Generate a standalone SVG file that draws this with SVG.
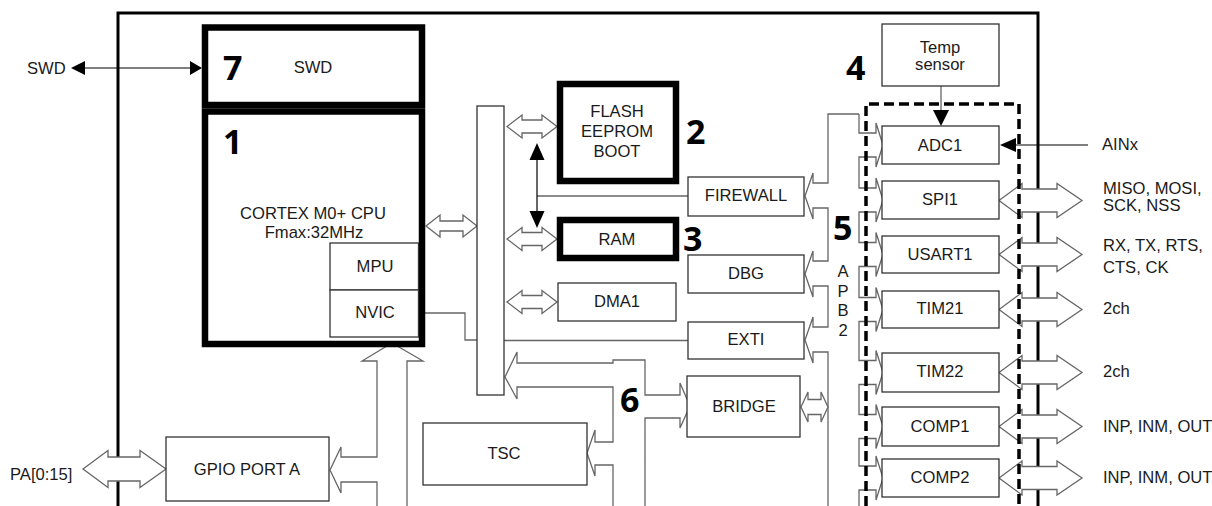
<svg xmlns="http://www.w3.org/2000/svg" width="1212" height="506" viewBox="0 0 1212 506">
<style>
.box{fill:#fff;stroke:#333;stroke-width:1.3}
.thick{fill:#fff;stroke:#000;stroke-width:6.5}
.t{font-family:"Liberation Sans",Arial,sans-serif;font-size:16.6px;fill:#1a1a1a;text-anchor:middle}
.tl{font-family:"Liberation Sans",Arial,sans-serif;font-size:16.6px;fill:#1a1a1a}
.num{font-family:"Open Sans","Liberation Sans",sans-serif;font-weight:700;font-size:34px;fill:#000}
.bus{fill:none;stroke:#666;stroke-width:1.3}
.dbl{fill:#fff;stroke:#666;stroke-width:1.3}
.blk{fill:none;stroke:#000;stroke-width:1.2}
.hd{fill:#000;stroke:none}
</style>
<rect width="1212" height="506" fill="#fff"/>
<path id="chip" d="M118,506 L118,13 L1038,13 L1038,506" fill="none" stroke="#000" stroke-width="3"/>
<g id="connectors">
  <line class="blk" x1="84" y1="68" x2="191" y2="68"/>
  <polygon class="hd" points="71,68 85,61 85,75"/>
  <polygon class="hd" points="202,68 190,61 190,75"/>
  <polygon class="dbl" points="426,226 440,215 440,221 463,221 463,215 477,226 463,237 463,231 440,231 440,237"/>
  <polygon class="dbl" points="507,126.5 522,115 522,120 542,120 542,115 557,126.5 542,138 542,133 522,133 522,138"/>
  <polygon class="dbl" points="507,239 522,227.5 522,232.5 542,232.5 542,227.5 557,239 542,250.5 542,245.5 522,245.5 522,250.5"/>
  <polygon class="dbl" points="507,302 522,290.5 522,295.5 542,295.5 542,290.5 557,302 542,313.5 542,308.5 522,308.5 522,313.5"/>
  <line class="bus" x1="537" y1="196" x2="688" y2="196"/>
  <line class="blk" x1="537" y1="158" x2="537" y2="213"/>
  <polygon class="hd" points="537,143 529.5,160 544.5,160"/>
  <polygon class="hd" points="537,228 529.5,211 544.5,211"/>
  <polyline class="bus" points="425,313 465,313 465,340 477,340"/>
  <line class="bus" x1="504" y1="340.5" x2="688" y2="340.5"/>
  <path class="dbl" d="M645,506 L645,418 L680,418 L680,428 L690,406 L680,383 L680,395 L645,395 L645,360 L613,360 L613,363 L517,363 L517,352 L505,377 L517,399 L517,387 L613,387 L613,442 L595,442 L595,430 L587,453 L595,476 L595,465 L613,465 L613,506"/>
  <path class="dbl" d="M377,506 L377,482 L341,482 L341,493 L330,470 L341,447 L341,457 L377,457 L377,361 L362,361 L392,343 L423,361 L407,361 L407,506"/>
  <polygon class="dbl" points="83,469 108,450.5 108,457 140,457 140,450.5 166,469 140,487.5 140,481 108,481 108,487.5"/>
  <path class="dbl" d="M859,114 L828,114 L828,183 L813,183 L813,173 L805,196 L813,219 L813,208 L828,208 L828,261 L813,261 L813,251 L805,274 L813,297 L813,286 L828,286 L828,327 L813,327 L813,317 L805,340 L813,363 L813,352 L828,352 L828,506"/>
  <path class="bus" d="M859,114 L859,133 L876,133 L876,123 L883,145 L876,167 L876,157 L859,157 L859,188 L876,188 L876,178 L883,200 L876,222 L876,212 L859,212 L859,242.5 L876,242.5 L876,232.5 L883,254.5 L876,276.5 L876,266.5 L859,266.5 L859,297.5 L876,297.5 L876,287.5 L883,309.5 L876,331.5 L876,321.5 L859,321.5 L859,360.5 L876,360.5 L876,350.5 L883,372.5 L876,394.5 L876,384.5 L859,384.5 L859,414.5 L876,414.5 L876,404.5 L883,426.5 L876,448.5 L876,438.5 L859,438.5 L859,466 L876,466 L876,456 L883,478 L876,500 L876,490 L859,490 L859,506"/>
  <polygon class="dbl" points="801,407 808,392 808,399.5 821,399.5 821,392 828,407 821,422 821,414.5 808,414.5 808,422"/>
  <line class="bus" x1="941" y1="86" x2="941" y2="111"/>
  <polygon class="hd" points="941,126 933,110 949,110"/>
  <line class="blk" x1="1015" y1="145" x2="1088" y2="145"/>
  <polygon class="hd" points="1000,145 1016,138 1016,152"/>
  <polygon class="dbl" points="999,200.5 1022,183.5 1022,189 1057,189 1057,183.5 1082,200.5 1057,217.5 1057,212 1022,212 1022,217.5"/>
  <polygon class="dbl" points="999,254.5 1022,237.5 1022,243 1057,243 1057,237.5 1082,254.5 1057,271.5 1057,266 1022,266 1022,271.5"/>
  <polygon class="dbl" points="999,309.5 1022,292.5 1022,298 1057,298 1057,292.5 1082,309.5 1057,326.5 1057,321 1022,321 1022,326.5"/>
  <polygon class="dbl" points="999,372.5 1022,355.5 1022,361 1057,361 1057,355.5 1082,372.5 1057,389.5 1057,384 1022,384 1022,389.5"/>
  <polygon class="dbl" points="999,426.5 1022,409.5 1022,415 1057,415 1057,409.5 1082,426.5 1057,443.5 1057,438 1022,438 1022,443.5"/>
  <polygon class="dbl" points="999,478 1022,461 1022,466.5 1057,466.5 1057,461 1082,478 1057,495 1057,489.5 1022,489.5 1022,495"/>
</g>
<g id="swd"><rect class="thick" x="205" y="27.5" width="217" height="77.5"/><text class="t" x="313" y="73">SWD</text></g>
<g id="cpu"><rect class="thick" x="205" y="111.5" width="217" height="232.5"/><text class="t" x="313" y="219">CORTEX M0+ CPU</text><text class="t" x="314" y="238">Fmax:32MHz</text></g>
<g id="mpu"><rect class="box" x="330" y="243" width="88.5" height="47"/><text class="t" x="375" y="272">MPU</text></g>
<g id="nvic"><rect class="box" x="330" y="290" width="88.5" height="47"/><text class="t" x="375" y="318">NVIC</text></g>
<g id="bus"><rect class="box" x="477" y="106" width="27" height="289"/></g>
<g id="flash"><rect class="thick" x="560" y="84" width="116" height="97"/><text class="t" x="617" y="117">FLASH</text><text class="t" x="617" y="137">EEPROM</text><text class="t" x="617" y="157">BOOT</text></g>
<g id="ram"><rect class="thick" x="560" y="220" width="116" height="38"/><text class="t" x="617" y="245">RAM</text></g>
<g id="dma1"><rect class="box" x="558" y="283" width="118" height="38"/><text class="t" x="617" y="307">DMA1</text></g>
<g id="firewall"><rect class="box" x="688" y="177" width="116" height="39"/><text class="t" x="746" y="201">FIREWALL</text></g>
<g id="dbg"><rect class="box" x="688" y="255" width="116" height="38"/><text class="t" x="746" y="279">DBG</text></g>
<g id="exti"><rect class="box" x="688" y="322" width="116" height="37"/><text class="t" x="746" y="345">EXTI</text></g>
<g id="bridge"><rect class="box" x="687" y="376" width="113" height="61"/><text class="t" x="744" y="412">BRIDGE</text></g>
<g id="tsc"><rect class="box" x="423" y="423" width="164" height="62"/><text class="t" x="504" y="459">TSC</text></g>
<g id="gpioa"><rect class="box" x="166" y="437" width="163" height="64"/><text class="t" x="247" y="475">GPIO PORT A</text></g>
<g id="temp"><rect class="box" x="882" y="24" width="117" height="62"/><text class="t" x="940" y="53">Temp</text><text class="t" x="940" y="70">sensor</text></g>
<g id="adc1"><rect class="box" x="882" y="126" width="117" height="38"/><text class="t" x="940" y="151">ADC1</text></g>
<g id="spi1"><rect class="box" x="882" y="181" width="117" height="38"/><text class="t" x="940" y="205">SPI1</text></g>
<g id="usart1"><rect class="box" x="882" y="236" width="117" height="37"/><text class="t" x="940" y="260">USART1</text></g>
<g id="tim21"><rect class="box" x="882" y="291" width="117" height="37"/><text class="t" x="940" y="314">TIM21</text></g>
<g id="tim22"><rect class="box" x="882" y="353" width="117" height="39"/><text class="t" x="940" y="377">TIM22</text></g>
<g id="comp1"><rect class="box" x="882" y="407" width="117" height="39"/><text class="t" x="940" y="432">COMP1</text></g>
<g id="comp2"><rect class="box" x="882" y="459" width="117" height="38"/><text class="t" x="940" y="483">COMP2</text></g>
<path id="apb-group" d="M866,506 L866,104 L1019,104 L1019,506" fill="none" stroke="#000" stroke-width="3.5" stroke-dasharray="10 5"/>
<g id="apb2-label">
  <text class="t" x="843" y="277">A</text><text class="t" x="843" y="297">P</text><text class="t" x="843" y="316">B</text><text class="t" x="843" y="336">2</text>
</g>
<g id="labels">
  <text class="tl" x="27" y="74">SWD</text>
  <text class="tl" x="10" y="480">PA[0:15]</text>
  <text class="tl" x="1102" y="150">AINx</text>
  <text class="tl" x="1103" y="194">MISO, MOSI,</text>
  <text class="tl" x="1103" y="211">SCK, NSS</text>
  <text class="tl" x="1103" y="251">RX, TX, RTS,</text>
  <text class="tl" x="1103" y="273">CTS, CK</text>
  <text class="tl" x="1103" y="314">2ch</text>
  <text class="tl" x="1103" y="377">2ch</text>
  <text class="tl" x="1103" y="432">INP, INM, OUT</text>
  <text class="tl" x="1103" y="483">INP, INM, OUT</text>
</g>
<g id="numbers">
  <text class="num" x="223" y="80">7</text>
  <text class="num" x="223" y="154">1</text>
  <text class="num" x="686" y="144">2</text>
  <text class="num" x="683" y="251">3</text>
  <text class="num" x="846" y="80">4</text>
  <text class="num" x="833" y="240">5</text>
  <text class="num" x="620" y="412">6</text>
</g>
</svg>
